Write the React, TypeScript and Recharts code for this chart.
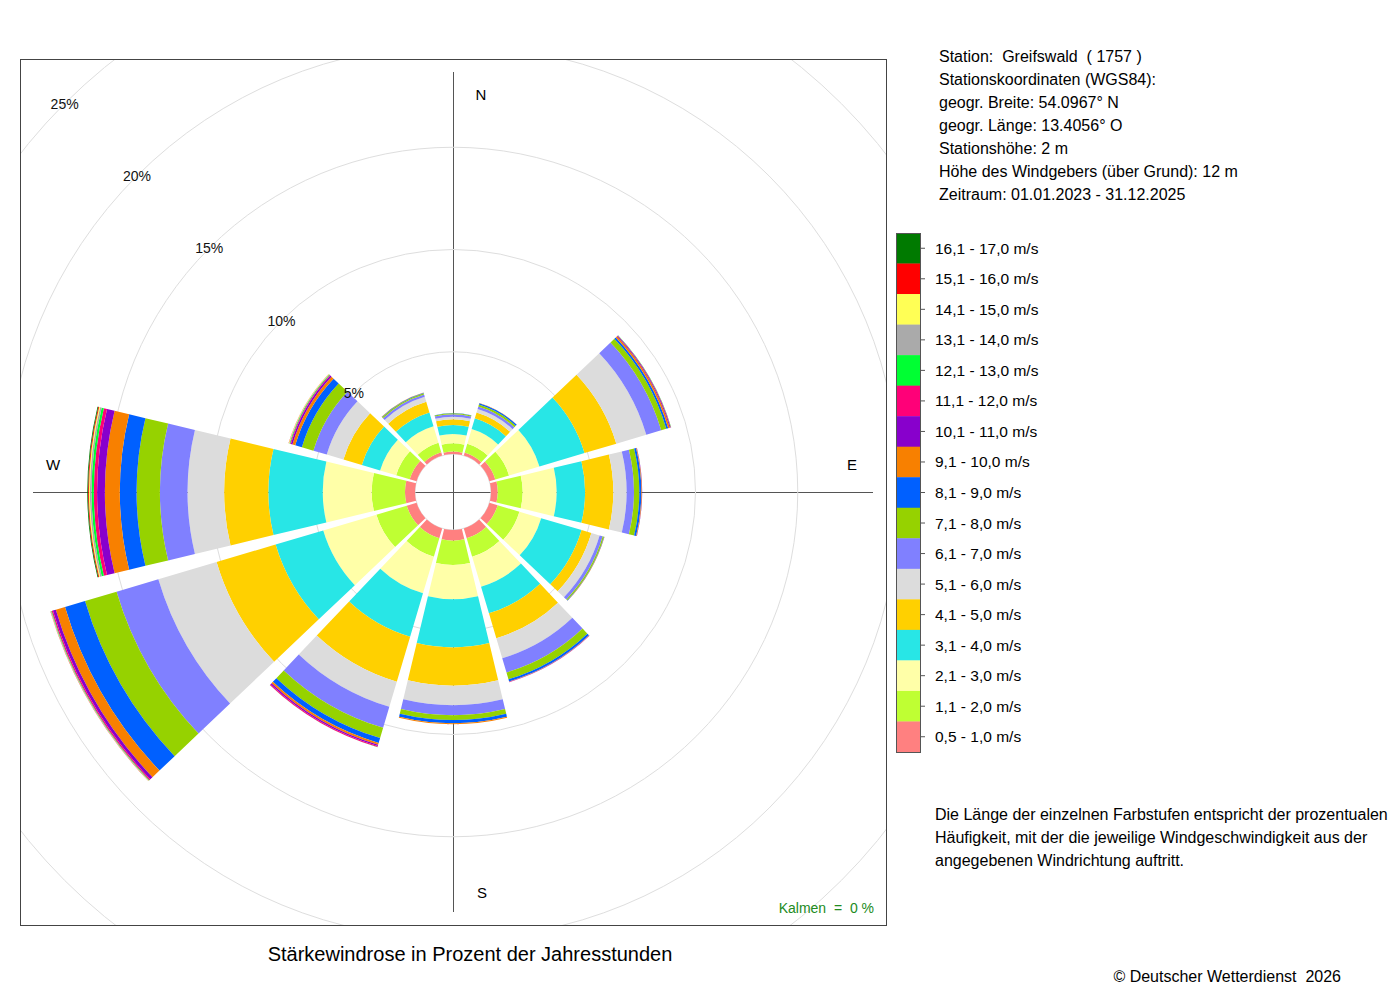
import React from 'react';
import {
  RadialBarChart,
  RadialBar,
  PolarAngleAxis,
  PolarRadiusAxis,
  PolarGrid,
} from 'recharts';

const FONT = '"Liberation Sans", Arial, Helvetica, sans-serif';

// 12 sectors of 30°, clockwise from north
const DIRS = ['N', 'NNO', 'ONO', 'O', 'OSO', 'SSO', 'S', 'SSW', 'WSW', 'W', 'WNW', 'NNW'];

// % of annual hours per sector, one array per speed class
const V_0_5 = [0.12, 0.15, 0.3, 0.33, 0.42, 0.5, 0.52, 0.5, 0.5, 0.49, 0.35, 0.17];
const V_1_1 = [0.4, 0.45, 0.7, 1.22, 1.11, 0.94, 1.19, 0.94, 1.55, 1.63, 0.69, 0.48];
const V_2_1 = [0.46, 0.75, 1.55, 1.66, 1.11, 1.53, 1.68, 1.87, 2.71, 2.39, 0.82, 0.85];
const V_3_1 = [0.44, 0.55, 2.3, 1.39, 2.06, 1.36, 2.35, 2.21, 2.43, 2.66, 0.93, 0.7];
const V_4_1 = [0.28, 0.3, 1.62, 1.38, 0.5, 1.27, 1.87, 2.3, 3.01, 2.16, 0.94, 0.55];
const V_5_1 = [0.12, 0.18, 1.53, 0.65, 0.42, 1.02, 0.95, 1.28, 2.97, 1.79, 0.85, 0.25];
const V_6_1 = [0.12, 0.12, 0.76, 0.36, 0.16, 0.73, 0.49, 1.07, 2.13, 1.35, 0.68, 0.12];
const V_7_1 = [0.05, 0.1, 0.26, 0.26, 0.06, 0.34, 0.24, 0.52, 1.61, 1.14, 0.59, 0.06];
const V_8_1 = [0.01, 0.07, 0.1, 0.1, 0.02, 0.11, 0.15, 0.25, 1.02, 0.82, 0.34, 0.02];
const V_9_1 = [0, 0.01, 0.08, 0.03, 0.01, 0.02, 0.05, 0.09, 0.47, 0.73, 0.14, 0.01];
const V_10_1 = [0, 0, 0.04, 0.01, 0, 0.01, 0.01, 0.07, 0.15, 0.38, 0.08, 0];
const V_11_1 = [0, 0, 0.02, 0, 0, 0.01, 0, 0.05, 0.06, 0.16, 0.04, 0];
const V_12_1 = [0, 0, 0.01, 0, 0, 0, 0, 0.01, 0.03, 0.11, 0.03, 0];
const V_13_1 = [0, 0, 0, 0, 0, 0, 0, 0, 0.02, 0.08, 0.02, 0];
const V_14_1 = [0, 0, 0, 0, 0, 0, 0, 0, 0.01, 0.05, 0.02, 0];
const V_15_1 = [0, 0, 0, 0, 0, 0, 0, 0, 0.01, 0.04, 0.01, 0];
const V_16_1 = [0, 0, 0, 0, 0, 0, 0, 0, 0, 0.04, 0, 0];

const CLASS_LABELS = [
  '0,5 - 1,0 m/s', '1,1 - 2,0 m/s', '2,1 - 3,0 m/s', '3,1 - 4,0 m/s', '4,1 - 5,0 m/s',
  '5,1 - 6,0 m/s', '6,1 - 7,0 m/s', '7,1 - 8,0 m/s', '8,1 - 9,0 m/s', '9,1 - 10,0 m/s',
  '10,1 - 11,0 m/s', '11,1 - 12,0 m/s', '12,1 - 13,0 m/s', '13,1 - 14,0 m/s',
  '14,1 - 15,0 m/s', '15,1 - 16,0 m/s', '16,1 - 17,0 m/s',
];
const CLASS_COLORS = [
  '#FF8080', '#BFFF33', '#FFFFA8', '#28E6E6', '#FFD000', '#DCDCDC', '#8080FF', '#96D200',
  '#0060FF', '#F88000', '#8800CC', '#FF0078', '#00FF33', '#AAAAAA', '#FFFF55', '#FF0000',
  '#007A00',
];
const CLASS_VALUES = [
  V_0_5, V_1_1, V_2_1, V_3_1, V_4_1, V_5_1, V_6_1, V_7_1, V_8_1,
  V_9_1, V_10_1, V_11_1, V_12_1, V_13_1, V_14_1, V_15_1, V_16_1,
];

const RING_TICKS = [0, 5, 10, 15, 20, 25, 30];

const STATION_LINES = [
  'Station:  Greifswald  ( 1757 )',
  'Stationskoordinaten (WGS84):',
  'geogr. Breite: 54.0967° N',
  'geogr. Länge: 13.4056° O',
  'Stationshöhe: 2 m',
  'Höhe des Windgebers (über Grund): 12 m',
  'Zeitraum: 01.01.2023 - 31.12.2025',
];
const NOTE_LINES = [
  'Die Länge der einzelnen Farbstufen entspricht der prozentualen',
  'Häufigkeit, mit der die jeweilige Windgeschwindigkeit aus der',
  'angegebenen Windrichtung auftritt.',
];

const CLASSES = CLASS_LABELS.map((label, i) => ({
  key: `c${i}`,
  label,
  color: CLASS_COLORS[i],
  values: CLASS_VALUES[i],
}));

const data = DIRS.map((dir, d) => {
  const row: Record<string, string | number> = { dir };
  CLASSES.forEach((c) => {
    row[c.key] = c.values[d];
  });
  return row;
});

// chart is bigger than the frame; the frame clips the outer rings
const CHART = 1320;
const HALF = CHART / 2;
const HOLE = 38;
const PX_PER_PCT = 20.45;
const CENTER_IN_FRAME = 432;

const LEG_TOP = 233;
const LEG_H = 519 / 17;

const PRE = { whiteSpace: 'pre' as const };

function RingTick(props: any) {
  const { x, y, payload } = props;
  if (!payload || payload.value === 0 || payload.value > 25) return <g />;
  return (
    <text x={x} y={y} textAnchor="middle" dominantBaseline="central" fontSize={14} fill="#111" fontFamily={FONT}>
      {payload.value}%
    </text>
  );
}

export default function App() {
  const c = CENTER_IN_FRAME;
  return (
    <div style={{ position: 'absolute', left: 0, top: 0, width: 1400, height: 1000, background: '#fff', fontFamily: FONT }}>
      <div
        style={{
          position: 'absolute',
          left: 20,
          top: 59,
          width: 867,
          height: 867,
          border: '1px solid #444',
          boxSizing: 'border-box',
          overflow: 'hidden',
        }}
      >
        <svg width={865} height={865} style={{ position: 'absolute', left: 0, top: 0 }}>
          <line x1={c + 0.5} y1={c - 420} x2={c + 0.5} y2={c + 420} stroke="#555" strokeWidth={1} />
          <line x1={c - 420} y1={c + 0.5} x2={c + 420} y2={c + 0.5} stroke="#555" strokeWidth={1} />
        </svg>
        <div style={{ position: 'absolute', left: c - HALF, top: c - HALF }}>
          <RadialBarChart
            width={CHART}
            height={CHART}
            cx={HALF}
            cy={HALF}
            data={data}
            layout="centric"
            startAngle={75}
            endAngle={-285}
            innerRadius={HOLE}
            outerRadius={HOLE + 30 * PX_PER_PCT}
            barCategoryGap="5%"
            margin={{ top: 0, right: 0, bottom: 0, left: 0 }}
          >
            <PolarGrid gridType="circle" radialLines={false} stroke="#dedede" />
            <PolarAngleAxis type="category" dataKey="dir" axisLine={false} tickLine={false} tick={false} />
            {CLASSES.map((cl) => (
              <RadialBar key={cl.key} dataKey={cl.key} stackId="a" fill={cl.color} isAnimationActive={false} />
            ))}
            <PolarRadiusAxis
              type="number"
              domain={[0, 30]}
              ticks={RING_TICKS}
              angle={135}
              axisLine={false}
              tickLine={false}
              tick={RingTick}
            />
          </RadialBarChart>
        </div>
      </div>

      <svg width={1400} height={1000} style={{ position: 'absolute', left: 0, top: 0, pointerEvents: 'none' }} fontFamily={FONT}>
        <g fontSize={15} fill="#000" textAnchor="middle" dominantBaseline="central">
          <text x={481} y={94}>N</text>
          <text x={852} y={464}>E</text>
          <text x={482} y={892}>S</text>
          <text x={53} y={464}>W</text>
        </g>
        <text x={874} y={908} fontSize={14} fill="#228B22" textAnchor="end" dominantBaseline="central" style={PRE}>
          {'Kalmen  =  0 %'}
        </text>
        <text x={470} y={954} fontSize={20} fill="#000" textAnchor="middle" dominantBaseline="central">
          Stärkewindrose in Prozent der Jahresstunden
        </text>
        <text x={1341} y={976} fontSize={16} fill="#000" textAnchor="end" dominantBaseline="central" style={PRE}>
          {'© Deutscher Wetterdienst  2026'}
        </text>

        {STATION_LINES.map((t, i) => (
          <text key={t} x={939} y={56 + i * 23} fontSize={16} fill="#000" dominantBaseline="central" style={PRE}>
            {t}
          </text>
        ))}
        {NOTE_LINES.map((t, i) => (
          <text key={t} x={935} y={814 + i * 23} fontSize={16} fill="#000" dominantBaseline="central" style={PRE}>
            {t}
          </text>
        ))}

        {CLASSES.slice().reverse().map((cl, i) => {
          const y = LEG_TOP + i * LEG_H;
          const mid = y + LEG_H / 2;
          return (
            <g key={cl.key}>
              <rect x={896} y={y} width={24} height={LEG_H + 0.3} fill={cl.color} />
              <line x1={920} x2={925} y1={mid} y2={mid} stroke="#555" />
              <text x={935} y={mid} fontSize={15.5} fill="#000" dominantBaseline="central">{cl.label}</text>
            </g>
          );
        })}
        <rect x={896.5} y={LEG_TOP + 0.5} width={24} height={17 * LEG_H} fill="none" stroke="#555" />
      </svg>
    </div>
  );
}
